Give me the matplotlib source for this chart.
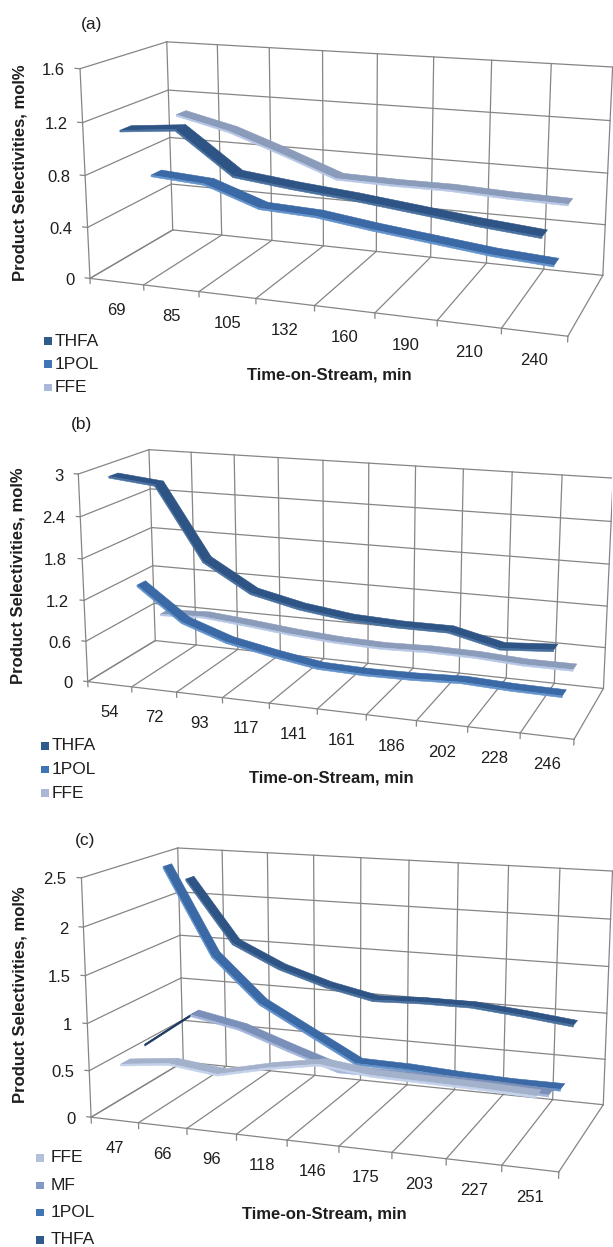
import numpy as np
import matplotlib
matplotlib.use('Agg')
import matplotlib.pyplot as plt
from matplotlib.patches import Rectangle
from mpl_toolkits.mplot3d import proj3d
from mpl_toolkits.mplot3d.art3d import Poly3DCollection

plt.rcParams['font.family'] = 'Liberation Sans'
plt.rcParams['font.size'] = 12
plt.rcParams['text.color'] = '#1e1e1e'

W, H = 613, 1247

# (a)
a_times = ['69', '85', '105', '132', '160', '190', '210', '240']
a_thfa = [1.13, 1.17, 0.86, 0.81, 0.77, 0.72, 0.67, 0.63]
a_1pol = [0.68, 0.65, 0.50, 0.48, 0.42, 0.37, 0.32, 0.29]
a_ffe = [1.07, 0.97, 0.82, 0.66, 0.65, 0.65, 0.63, 0.62]
a_ticks = [0, 0.4, 0.8, 1.2, 1.6]

# (b)
b_times = ['54', '72', '93', '117', '141', '161', '186', '202', '228', '246']
b_thfa = [2.95, 2.88, 1.86, 1.47, 1.32, 1.23, 1.20, 1.20, 1.04, 1.09]
b_1pol = [1.22, 0.73, 0.50, 0.37, 0.26, 0.24, 0.25, 0.28, 0.25, 0.24]
b_ffe = [0.59, 0.62, 0.56, 0.49, 0.44, 0.42, 0.44, 0.43, 0.39, 0.39]
b_ticks = [0, 0.6, 1.2, 1.8, 2.4, 3.0]

# (c)
c_times = ['47', '66', '96', '118', '146', '175', '203', '227', '251']
c_ffe = [0.55, 0.61, 0.55, 0.67, 0.76, 0.70, 0.69, 0.68, 0.66]
c_mf = [0.62, 0.99, 0.89, 0.71, 0.54, 0.54, 0.54, 0.53, 0.51]
c_1pol = [2.44, 1.51, 1.03, 0.75, 0.47, 0.46, 0.43, 0.41, 0.41]
c_thfa = [2.22, 1.54, 1.30, 1.14, 1.03, 1.05, 1.05, 1.00, 0.94]
c_ticks = [0, 0.5, 1.0, 1.5, 2.0, 2.5]

# ribbon top, ribbon front edge, legend square
style = {
    'THFA': ('#2D5484', '#48709F', '#2F5A8D'),
    '1POL': ('#3A69A6', '#6292CC', '#3F74B6'),
    'FFE': ('#8B9BBA', '#B6C7E6', '#A8B8D6'),
    'MF': ('#7B90B9', '#A3B6DA', '#8499C4'),
}
FFE_C = ('#A3B1CB', '#C3D1EA', '#B3C1DC')
RISE_C = '#1E3A62'

panels = [
    dict(tag='(a)', times=a_times, ticks=a_ticks,
         names=['THFA', '1POL', 'FFE'], values=[a_thfa, a_1pol, a_ffe],
         rect=[0.1068, 0.6342, 0.8952, 0.4401], view=(14.05, -70.26, 0.4677), box=(1, 0.3802, 0.4409),
         tag_xy=(92, 25), ylab_xy=(20, 173), xlab_xy=(329, 375),
         leg_x=(48, 55), leg_y=(341, 23.3)),
    dict(tag='(b)', times=b_times, ticks=b_ticks,
         names=['THFA', '1POL', 'FFE'], values=[b_thfa, b_1pol, b_ffe],
         rect=[0.0988, 0.3058, 0.8997, 0.4423], view=(14.57, -70.53, 0.5008), box=(1, 0.3073, 0.4297),
         tag_xy=(82, 425), ylab_xy=(18, 576), xlab_xy=(331, 778),
         leg_x=(45, 52), leg_y=(746, 23.5)),
    dict(tag='(c)', times=c_times, ticks=c_ticks,
         names=['FFE', 'MF', '1POL', 'THFA'], values=[c_ffe, c_mf, c_1pol, c_thfa],
         rect=[0.1026, -0.0283, 0.9134, 0.4490], view=(13.54, -70.40, 0.52), box=(1, 0.4486, 0.5096),
         tag_xy=(85, 840), ylab_xy=(20, 995), xlab_xy=(324, 1214),
         leg_x=(40, 51), leg_y=(1158, 27.3)),
]


def ribbon(ax, vals, depth, zmax, colors, zorder, w=0.38):
    top, edge = colors[0], colors[1]
    xs = np.arange(len(vals)) + 0.5
    y0, y1 = depth - w / 2, depth + w / 2
    t = 0.008 * zmax
    faces, fcs = [], []
    for i in range(len(vals) - 1):
        xa, xb, va, vb = xs[i], xs[i + 1], vals[i], vals[i + 1]
        rising = vb - va > 0.1 * zmax
        faces.append([(xa, y0, va), (xb, y0, vb), (xb, y1, vb), (xa, y1, va)])
        fcs.append(RISE_C if rising else top)
        faces.append([(xa, y0, va), (xb, y0, vb), (xb, y0, vb - t), (xa, y0, va - t)])
        fcs.append(RISE_C if rising else edge)
    pc = Poly3DCollection(faces, facecolors=fcs, edgecolors=fcs, linewidths=0.4)
    pc.set_zorder(zorder)
    ax.add_collection3d(pc)


def anchor(ax, x, y, z):
    # projected position of a 3D point, in figure pixels (origin bottom-left)
    px, py, _ = proj3d.proj_transform(np.atleast_1d(float(x)), np.atleast_1d(float(y)),
                                      np.atleast_1d(float(z)), ax.get_proj())
    return ax.transData.transform(np.c_[px, py])[0]


def ftext(xp, yp, s, **kw):
    # text at figure pixels, origin bottom-left
    fig.text(xp / W, yp / H, s, **kw)


fig = plt.figure(figsize=(W / 100, H / 100), dpi=100)

for p in panels:
    N, D, zmax = len(p['times']), len(p['names']), p['ticks'][-1]
    ax = fig.add_axes(p['rect'], projection='3d', computed_zorder=False)
    ax.patch.set_visible(False)
    ax.set_axis_off()
    ax.set_xlim(0, N); ax.set_ylim(0, D); ax.set_zlim(0, zmax)
    elev, azim, f = p['view']
    ax.view_init(elev=elev, azim=azim)
    ax.set_proj_type('persp', focal_length=f)
    ax.set_box_aspect(p['box'])
    ax.apply_aspect()

    grid = dict(color='#858585', lw=0.9, zorder=1)
    for i in range(N + 1):
        ax.plot([i, i], [D, D], [0, zmax], **grid)
        ax.plot([i, i], [0, D], [0, 0], **grid)
        ax.plot([i, i], [0, 0], [0, -0.025 * zmax], **grid)
    for z in p['ticks']:
        ax.plot([0, N], [D, D], [z, z], **grid)
        ax.plot([0, 0], [0, D], [z, z], **grid)
        ax.plot([0, -0.09], [0, 0], [z, z], **grid)
        xp, yp = anchor(ax, 0, 0, z)
        ftext(xp - 15, yp - 2, '%g' % z, ha='right', va='center', fontsize=12)
    ax.plot([0, N], [0, 0], [0, 0], **grid)
    ax.plot([0, 0], [0, 0], [0, zmax], **grid)
    for i, t in enumerate(p['times']):
        xp, yp = anchor(ax, i + 0.5, 0, 0)
        ftext(xp, yp - 28.5, t, ha='center', va='center', fontsize=12)

    cols = [FFE_C if (name == 'FFE' and D == 4) else style[name] for name in p['names']]
    for s in reversed(range(D)):
        ribbon(ax, p['values'][s], s + 0.5, zmax, cols[s], zorder=3 + D - s)

    ftext(p['tag_xy'][0], H - p['tag_xy'][1], p['tag'], ha='center', va='center', fontsize=12.5)
    ftext(p['ylab_xy'][0], H - p['ylab_xy'][1], 'Product Selectivities, mol%',
          rotation=90, ha='center', va='center', fontsize=12, fontweight='bold')
    ftext(p['xlab_xy'][0], H - p['xlab_xy'][1], 'Time-on-Stream, min',
          ha='center', va='center', fontsize=12, fontweight='bold')

    # legend, one row per series
    xs, xt = p['leg_x']
    y0, dy = p['leg_y']
    for j, name in enumerate(p['names']):
        yc = H - (y0 + j * dy)
        fig.add_artist(Rectangle(((xs - 3.8) / W, (yc - 3.8) / H), 7.6 / W, 7.6 / H,
                                 transform=fig.transFigure, color=cols[j][2], lw=0))
        ftext(xt, yc, name, ha='left', va='center', fontsize=12.5)

fig.savefig('out.png', dpi=100)
